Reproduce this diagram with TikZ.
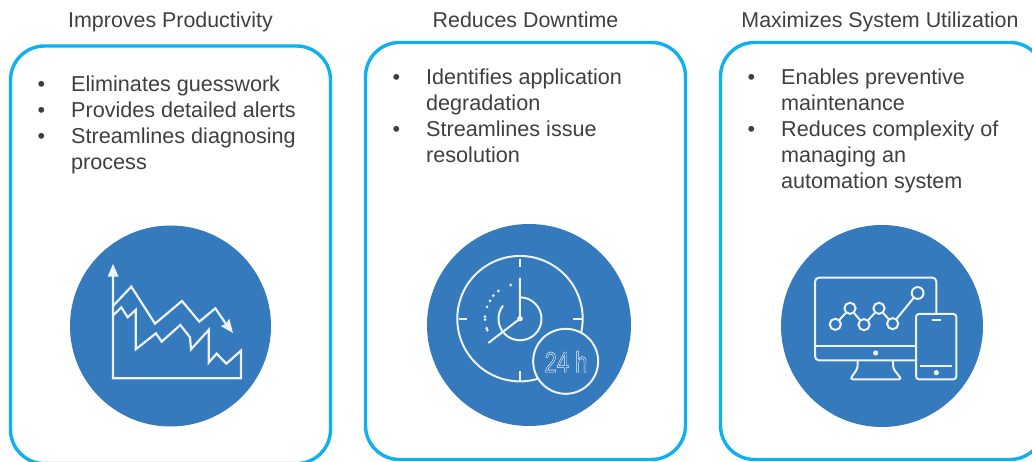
\documentclass[tikz,border=0pt]{standalone}
\usepackage{fontspec}
\setmainfont{Liberation Sans}
\definecolor{framec}{HTML}{0FB0F0}
\definecolor{discc}{HTML}{357ABD}
\definecolor{textc}{HTML}{3F3F3F}
\definecolor{icoc}{HTML}{EEF3F9}
\tikzset{
  panel/.style={draw=framec,line width=3.4pt,rounded corners=34pt},
  ico/.style={draw=icoc,line width=2.2pt,line join=miter},
  icot/.style={draw=icoc,line width=2pt},
  head/.style={text=textc,font=\fontsize{21.4}{25}\selectfont,inner sep=0pt,anchor=base},
  item/.style={text=textc,font=\fontsize{21.6}{26}\selectfont,inner sep=0pt,anchor=base west},
  dotb/.style={text=textc,font=\fontsize{21.6}{26}\selectfont,inner sep=0pt,anchor=base}
}
\begin{document}
\begin{tikzpicture}[x=1pt,y=-1pt]
\useasboundingbox (0,0) rectangle (1032,462);
\begin{scope}
\clip (0,0) rectangle (1032,462);
\draw[panel] (10.5,46) rectangle (330.5,463.6);
\draw[panel] (365.5,42.5) rectangle (685.5,459.5);
\draw[panel] (720.5,42.5) rectangle (1044,459.5);
\end{scope}
\node[head] (h1) at (170.5,27.5) {Improves Productivity};
\node[head] (h2) at (525.5,27.5) {Reduces Downtime};
\node[head] (h3) at (880,27.5) {Maximizes System Utilization};
% bullets 1
\foreach \y/\t in {91.7/Eliminates guesswork,117.7/Provides detailed alerts,143.7/Streamlines diagnosing}{
  \node[dotb] at (41.5,\y) {•};
  \node[item] at (71,\y) {\t};
}
\node[item] (a4) at (71,169.7) {process};
% bullets 2
\node[dotb] at (396.5,84.7) {•};
\node[item] (b1) at (426,84.7) {Identifies application};
\node[item] (b2) at (426,110.7) {degradation};
\node[dotb] at (396.5,136.7) {•};
\node[item] (b3) at (426,136.7) {Streamlines issue};
\node[item] (b4) at (426,162.7) {resolution};
% bullets 3
\node[dotb] at (751.5,84.7) {•};
\node[item] (c1) at (781,84.7) {Enables preventive};
\node[item] (c2) at (781,110.7) {maintenance};
\node[dotb] at (751.5,136.7) {•};
\node[item] (c3) at (781,136.7) {Reduces complexity of};
\node[item] (c4) at (781,162.7) {managing an};
\node[item] (c5) at (781,188.7) {automation system};
% discs
\fill[discc] (170.5,326) circle (100.5);
\fill[discc] (529,325) ellipse (102 and 101);
\fill[discc] (882,326) circle (101);
% chart icon
\begin{scope}[shift={(60,220)},x=0.3333pt,y=-0.3333pt]
\draw[ico] (159,160) -- (159,475) -- (543,475) -- (543,392) -- (499,431) -- (470,401) -- (446,428) -- (446,330) -- (393,388) -- (390,352) -- (361,315) -- (305,365) -- (288,340) -- (227,388) -- (227,270) -- (203,292) -- (184,262) -- (159,287);
\draw[ico] (159,258) -- (214,200) -- (285,311) -- (366,243) -- (418,305) -- (466,265) -- (505,322);
\fill[icoc] (159,132) -- (176,170) -- (143,170) -- cycle;
\fill[icoc] (519,339) -- (482,318) -- (497,312) -- (508,296) -- cycle;
\end{scope}
% clock icon
\begin{scope}[shift={(420,220)},x=0.3333pt,y=-0.3333pt]
\draw[icot] (300,296) circle (62.7pt);
\draw[icot] (300,116) -- (300,142);
\draw[icot] (300,454) -- (300,484);
\draw[icot] (116,296) -- (142,296);
\draw[icot] (458,296) -- (486,296);
\draw[icot] (300,174) -- (300,296) -- (205,369);
\draw[icot] (300,232) arc (90:-218:21.5pt);
\fill[icoc] (300,296) circle (2.8pt);
\foreach \a/\b in {272/195,235/213,220/227,210/243,201/261,195/290,195/299,200/325,202/331}{
  \fill[icoc] (\a,\b) circle (1.5pt);
}
\fill[discc] (437,424) circle (32.5pt);
\draw[icot] (437,424) circle (32.5pt);
\node[inner sep=0pt,text=icoc,font=\fontsize{29}{29}\selectfont] (hh) at (438,425) {\special{pdf: code q 1 Tr 0.55 w 0.93 0.95 0.98 RG}\scalebox{0.76}[1]{24 h}\special{pdf: code Q}};
\end{scope}
% monitor icon
\begin{scope}[shift={(775,220)},x=0.3333pt,y=-0.3333pt]
\draw[icot,rounded corners=4pt] (422,421) -- (120,421) -- (120,173) -- (484,173) -- (484,282);
\draw[icot] (120,377) -- (422,377);
\fill[icoc] (302,399) circle (2.6pt);
\draw[icot,rounded corners=3pt] (248,421) -- (248,445) -- (225,478) -- (380,478) -- (354,445) -- (354,421);
\draw[icot,rounded corners=3pt] (423,282) rectangle (544,478);
\draw[icot] (470,300) -- (498,300);
\draw[icot] (436,438) -- (532,438);
\fill[icoc] (484,458) circle (2.6pt);
\draw[icot] (181,313) -- (225,265) -- (267,314) -- (312,265) -- (353,311) -- (428,219);
\foreach \a/\b/\r in {181/313/5.6,225/265/5.6,267/314/5.6,312/265/5.6,353/311/5.6,428/219/5.9}{
  \fill[discc] (\a,\b) circle (\r pt);
  \draw[icot] (\a,\b) circle (\r pt);
}
\end{scope}
\end{tikzpicture}
\end{document}
